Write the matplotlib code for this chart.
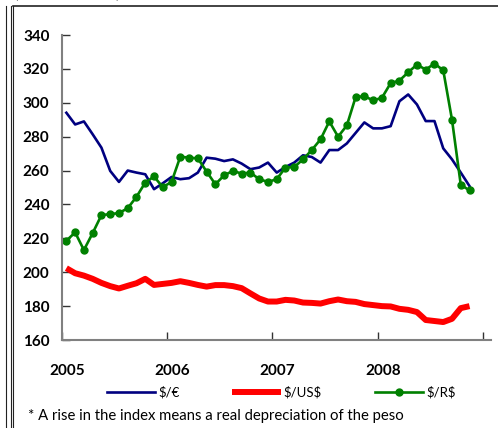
import matplotlib.pyplot as plt
from matplotlib.lines import Line2D
import numpy as np

plt.rcParams['font.family'] = ['Lato', 'DejaVu Sans']

# monthly index, Jan 2005 - Nov 2008
euro = [294.1, 287.2, 289.0, 281.4, 273.5, 259.8, 253.3, 260.0, 258.8, 257.8,
        249.0, 252.5, 256.2, 254.9, 255.5, 258.8, 267.6, 267.0, 265.6, 266.6,
        264.1, 260.8, 261.8, 264.7, 258.8, 262.1, 264.7, 269.0, 268.0, 264.7,
        272.1, 272.1, 276.0, 282.2, 288.4, 284.9, 284.9, 286.2, 300.9, 304.9,
        299.0, 289.2, 289.2, 273.1, 266.6, 258.8, 250.8]
usd = [202.4, 199.4, 198.0, 196.1, 193.7, 191.8, 190.4, 192.0, 193.5, 196.1,
       192.5, 193.1, 193.7, 194.7, 193.7, 192.5, 191.5, 192.4, 192.4, 191.8,
       190.6, 187.5, 184.5, 182.7, 182.7, 183.7, 183.3, 182.1, 181.9, 181.5,
       182.9, 183.9, 182.9, 182.5, 181.2, 180.6, 180.0, 179.8, 178.4, 177.8,
       176.5, 171.8, 171.2, 170.6, 172.5, 178.8, 180.0]
real = [218.6, 223.5, 213.1, 223.1, 233.7, 234.3, 234.9, 237.8, 244.5, 252.9,
        256.5, 250.2, 253.3, 268.2, 267.6, 267.2, 259.4, 251.9, 257.2, 259.8,
        258.2, 258.8, 254.9, 253.3, 254.9, 261.8, 262.1, 266.6, 272.1, 278.4,
        289.0, 280.0, 286.6, 303.3, 303.9, 301.4, 302.9, 311.6, 313.1, 318.0,
        322.5, 319.6, 323.1, 319.2, 290.0, 251.6, 248.3]
years = ['2005', '2006', '2007', '2008']
labels = ['\\$/€', '\\$/US\\$', '\\$/R\\$']

x = np.arange(len(euro)) + 0.5

fig = plt.figure(figsize=(4.98, 4.28), dpi=100)
ax = fig.add_axes([62 / 498, 1 - 340 / 428, (491 - 62) / 498, (340 - 35) / 428])

ax.plot(x, euro, color='#000080', lw=1.9, label=labels[0])
ax.plot(x, usd, color='#ff0000', lw=4.3, label=labels[1], solid_capstyle='butt')
ax.plot(x, real, color='#008000', lw=1.9, marker='o', ms=5, label=labels[2])

ax.set_xlim(0, 48.95)
ax.set_ylim(160, 340)
ax.set_yticks(np.arange(160, 341, 20))
ax.set_xticks([0, 12, 24, 36, 48])
ax.set_xticklabels([])
ax.set_xticks([0.6, 12.6, 24.6, 36.6], minor=True)
ax.set_xticklabels(years, minor=True)

ax.tick_params(axis='y', direction='in', length=6, width=1, color='#333333',
               labelsize=11, pad=9)
ax.tick_params(axis='x', which='major', direction='in', length=6, width=1,
               color='#333333')
ax.tick_params(axis='x', which='minor', length=0, labelsize=11, pad=17)
for t in ax.get_yticklabels() + ax.get_xticklabels(minor=True):
    t.set_fontweight('bold')

for s in ['top', 'right']:
    ax.spines[s].set_visible(False)
ax.spines['left'].set_color('#808080')
ax.spines['left'].set_linewidth(1.5)
ax.spines['bottom'].set_color('#808080')
ax.spines['bottom'].set_linewidth(1.5)

fig.legend(loc='center', bbox_to_anchor=(281 / 498, 1 - 392 / 428), ncol=3,
           frameon=False, fontsize=9.5, handlelength=3.7, handletextpad=0.2,
           columnspacing=4.0)

fig.text(28 / 498, 1 - 416 / 428,
         '* A rise in the index means a real depreciation of the peso',
         fontsize=10.7, va='center', ha='left')
fig.text(15 / 498, 1 + 5 / 428, '(Index 2001 = 100)', fontsize=9,
         va='center', ha='left', color='#555555')

# frame lines around the box
for xx in [6, 11, 12.5]:
    fig.add_artist(Line2D([xx / 498, xx / 498], [0, 1 - 6 / 428], color='#222222', lw=0.8))
fig.add_artist(Line2D([12.5 / 498, 1], [1 - 6 / 428, 1 - 6 / 428], color='#222222', lw=1.2))

plt.savefig('out.png', dpi=100)
